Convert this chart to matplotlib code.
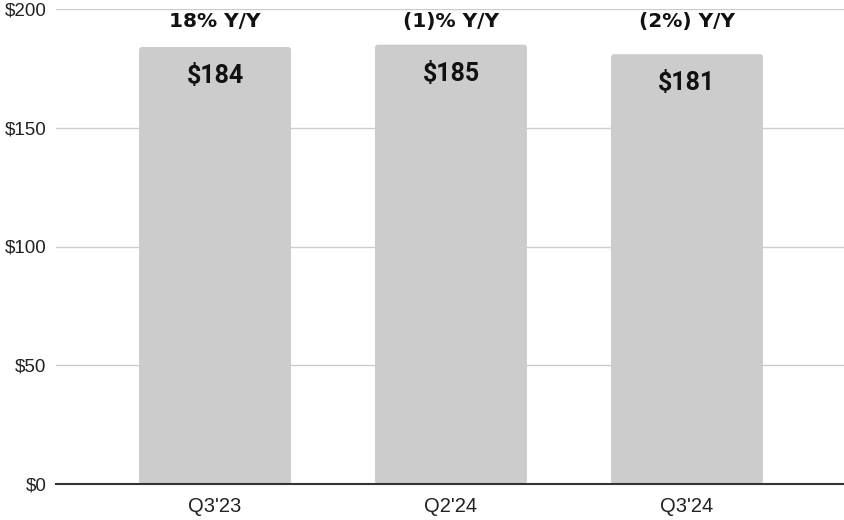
import matplotlib
matplotlib.use("Agg")
import matplotlib.pyplot as plt
from matplotlib.patches import FancyBboxPatch
from matplotlib.ticker import FixedLocator, FuncFormatter

quarters = ["Q3'23", "Q2'24", "Q3'24"]
values = [184, 185, 181]
value_labels = ["$184", "$185", "$181"]
growth_labels = ["18% Y/Y", "(1)% Y/Y", "(2%) Y/Y"]
y_ticks = [0, 50, 100, 150, 200]

fig = plt.figure(figsize=(8.45, 5.2), dpi=100)
ax = fig.add_axes([56 / 845, 1 - 484 / 520, 1 - 56 / 845, (484 - 9) / 520])

ax.set_ylim(0, 200)
ax.set_xlim(-0.674, 2.67)

x = list(range(len(quarters)))
bars = ax.bar(x, values, width=0.644, color="#cccccc", zorder=2)

# swap the plain rectangles for softly rounded ones
px_x = (ax.get_xlim()[1] - ax.get_xlim()[0]) / (845 - 56)
px_y = 200 / (484 - 9)
for b in bars:
    bx, by = b.get_x(), b.get_y()
    w, h = b.get_width(), b.get_height()
    b.set_visible(False)
    rb = FancyBboxPatch((bx, by), w, h,
                        boxstyle=f"round,pad=0,rounding_size={3 * px_x}",
                        mutation_aspect=px_y / px_x,
                        facecolor="#cccccc", edgecolor="none", zorder=2)
    ax.add_patch(rb)

ax.yaxis.set_major_locator(FixedLocator(y_ticks))
ax.yaxis.set_major_formatter(FuncFormatter(lambda v, _: f"${v:.0f}"))
ax.grid(axis="y", color="#cccccc", linewidth=1, zorder=0)
ax.set_xticks(x)
ax.set_xticklabels(quarters)

for s in ["top", "right", "left"]:
    ax.spines[s].set_visible(False)
ax.spines["bottom"].set_color("#333333")
ax.spines["bottom"].set_linewidth(1.5)
ax.spines["bottom"].set_zorder(3)
ax.tick_params(axis="both", length=0, labelcolor="#222222",
               labelfontfamily="Liberation Sans")
ax.tick_params(axis="y", labelsize=13.5, pad=7)
ax.tick_params(axis="x", labelsize=14.5, pad=9)

for xi, v, lab in zip(x, values, value_labels):
    ax.annotate(lab, (xi, v), xytext=(0, -29), textcoords="offset pixels",
                ha="center", va="center", fontsize=18, fontweight="bold",
                family="Roboto", color="#111111", zorder=4)

for xi, g in zip(x, growth_labels):
    ax.text(xi, 194.6, g, ha="center", va="center", fontsize=14.5,
            fontweight="bold", family="DejaVu Sans", color="#111111", zorder=4)

fig.savefig("out.png", dpi=100)
